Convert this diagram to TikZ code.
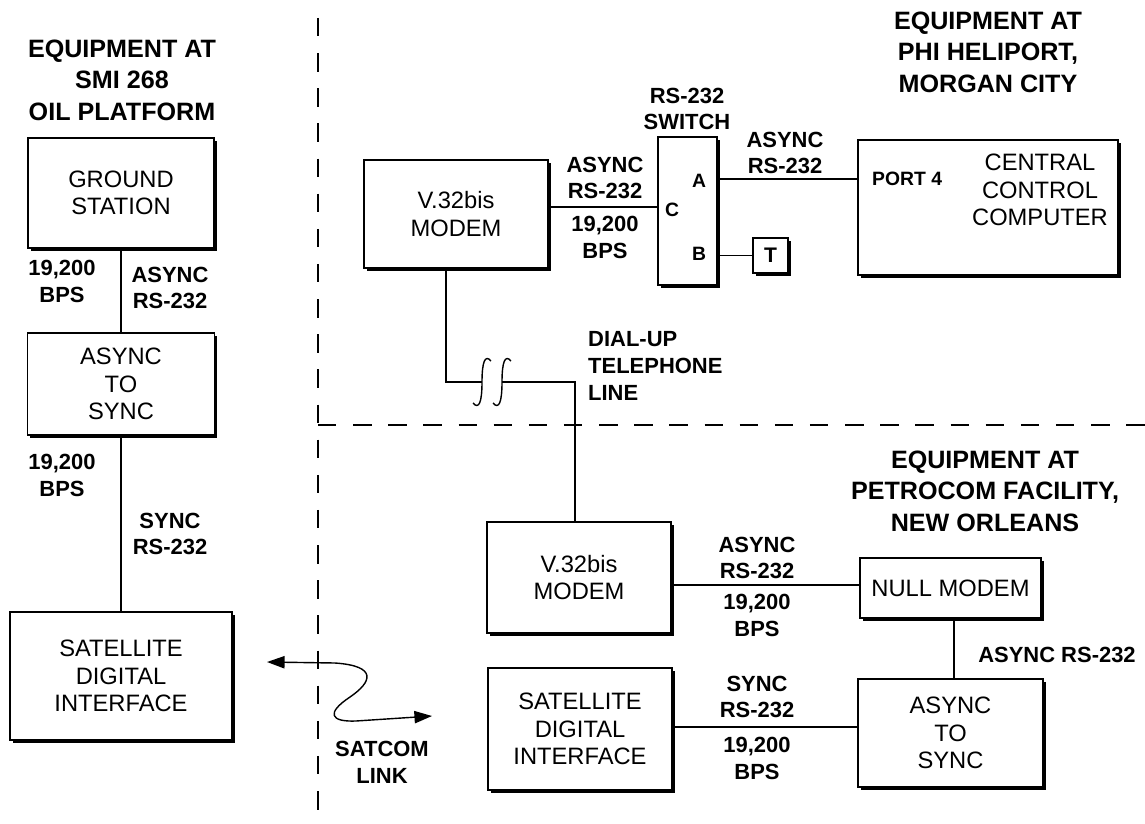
\documentclass[tikz,border=0pt]{standalone}
\usepackage{fontspec}
\setmainfont{Liberation Sans}
\usetikzlibrary{arrows.meta, positioning, shadows, calc}

\begin{document}
\begin{tikzpicture}[
    x=0.02cm, y=-0.02cm, % one unit = one pixel of the sheet
    >={Triangle[length=10pt, width=7pt]},
    inside/.style={align=center, inner sep=0pt, font=\fontsize{13.5}{15.5}\selectfont},
    box/.style={inside, draw, fill=white, line width=1pt,
        drop shadow={fill=black, opacity=1, shadow xshift=1.6pt, shadow yshift=-1.6pt}},
    title/.style={align=center, font=\bfseries\fontsize{14.3}{18}\selectfont},
    lbl/.style={align=center, font=\bfseries\fontsize{12.5}{15.3}\selectfont},
    pin/.style={font=\bfseries\fontsize{11}{13}\selectfont},
    wire/.style={line width=0.8pt},
    divider/.style={line width=1.1pt, dash pattern=on 10.5pt off 9.5pt}
]
\useasboundingbox (0,0) rectangle (1145,824);

% Site dividers
\draw[divider] (318,18) -- (318,824);
\draw[divider] (318,425) -- (1145,425);

% Titles
\node[title] (tplat) at (122,80) {EQUIPMENT AT\\SMI 268\\OIL PLATFORM};
\node[title] (theli) at (988,52) {EQUIPMENT AT\\PHI HELIPORT,\\MORGAN CITY};
\node[title] (tpetro) at (985,491) {EQUIPMENT AT\\PETROCOM FACILITY,\\NEW ORLEANS};

% Oil platform chain
\node[box, minimum width=3.72cm, minimum height=2.2cm] (gs) at (121,193) {GROUND\\STATION};
\node[box, minimum width=3.74cm, minimum height=2.04cm] (atsA) at (121,384) {ASYNC\\TO\\SYNC};
\node[box, minimum width=4.44cm, minimum height=2.56cm] (sdiA) at (121,676) {SATELLITE\\DIGITAL\\INTERFACE};

\draw[wire] (gs.south) -- (atsA.north);
\draw[wire] (atsA.south) -- (sdiA.north);

\node[lbl] (rateA) at (62,281) {19,200\\BPS};
\node[lbl] (protA) at (170,288) {ASYNC\\RS-232};
\node[lbl] (rateB) at (62,475) {19,200\\BPS};
\node[lbl] (protB) at (170,534) {SYNC\\RS-232};

% Satcom link
\draw[<->, wire] (267,662) -- (335,663) .. controls (378,666) and (372,682) .. (350,697)
    .. controls (326,713) and (330,722) .. (356,721) -- (432,716);
\node[lbl] (satlink) at (382,762) {SATCOM\\LINK};

% Heliport
\node[box, minimum width=3.68cm, minimum height=2.16cm] (modemA) at (456,214) {V.32bis\\MODEM};
\node[box, minimum width=1.18cm, minimum height=2.96cm] (sw) at (687.5,211) {};
\node[lbl] (swname) at (687,109) {RS-232\\SWITCH};
\node[box, minimum width=0.7cm, minimum height=0.7cm,
    font=\bfseries\fontsize{12}{14}\selectfont] (term) at (770.5,255.5) {T};
\node[box, minimum width=5.2cm, minimum height=2.7cm] (ccc) at (988,207.5) {};
\node[inside] (ccctext) at (1040,190) {CENTRAL\\CONTROL\\COMPUTER};
\node[pin, anchor=west] (port) at (866,179) {PORT 4};

\node[pin] (pinC) at (672,210) {C};
\node[pin] (pinA) at (699,181) {A};
\node[pin] (pinB) at (699,254) {B};

\coordinate (swC) at (658,207);
\coordinate (swA) at (717,179);
\draw[wire] (modemA.east |- swC) -- (swC);
\draw[wire] (swA) -- (ccc.west |- swA);
\draw[wire] (sw.east |- term.west) -- (term.west);

\node[lbl] (protC) at (605,178) {ASYNC\\RS-232};
\node[lbl] (rateC) at (605,237) {19,200\\BPS};
\node[lbl] (protD) at (785,153) {ASYNC\\RS-232};

% Dial-up telephone line
\coordinate (ph1) at (446,382);
\coordinate (ph2) at (575,382);
\coordinate (brk1) at (482,382);
\coordinate (brk2) at (502,382);
\foreach \bx in {482,502}
  \draw[wire] (\bx+9,361) .. controls (\bx+3,354) and (\bx,362) .. (\bx,382)
      .. controls (\bx,402) and (\bx-3,410) .. (\bx-9,403);
\node[lbl, align=left, anchor=west] (dial) at (582,366) {DIAL-UP\\TELEPHONE\\LINE};

% Petrocom
\node[box, minimum width=3.68cm, minimum height=2.22cm] (modemB) at (579,577.5) {V.32bis\\MODEM};
\node[box, minimum width=3.62cm, minimum height=1.2cm] (null) at (950.5,588) {NULL MODEM};
\node[box, minimum width=3.7cm, minimum height=2.16cm] (atsB) at (950.5,733) {ASYNC\\TO\\SYNC};
\node[box, minimum width=3.68cm, minimum height=2.44cm] (sdiB) at (580,729) {SATELLITE\\DIGITAL\\INTERFACE};

\draw[wire] (modemA.south -| ph1) -- (ph1) -- (brk1);
\draw[wire] (brk2) -- (ph2) -- (ph2 |- modemB.north);

\coordinate (linkE) at (672,585);
\coordinate (linkS) at (672,727);
\draw[wire] (modemB.east |- linkE) -- (null.west |- linkE);
\draw[wire] (null.south -| 954,0) -- (atsB.north -| 954,0);
\draw[wire] (sdiB.east |- linkS) -- (atsB.west |- linkS);

\node[lbl] (protE) at (757,558) {ASYNC\\RS-232};
\node[lbl] (rateE) at (757,615) {19,200\\BPS};
\node[lbl] (protF) at (1057,655) {ASYNC RS-232};
\node[lbl] (protG) at (757,697) {SYNC\\RS-232};
\node[lbl] (rateG) at (757,758) {19,200\\BPS};

\end{tikzpicture}
\end{document}
